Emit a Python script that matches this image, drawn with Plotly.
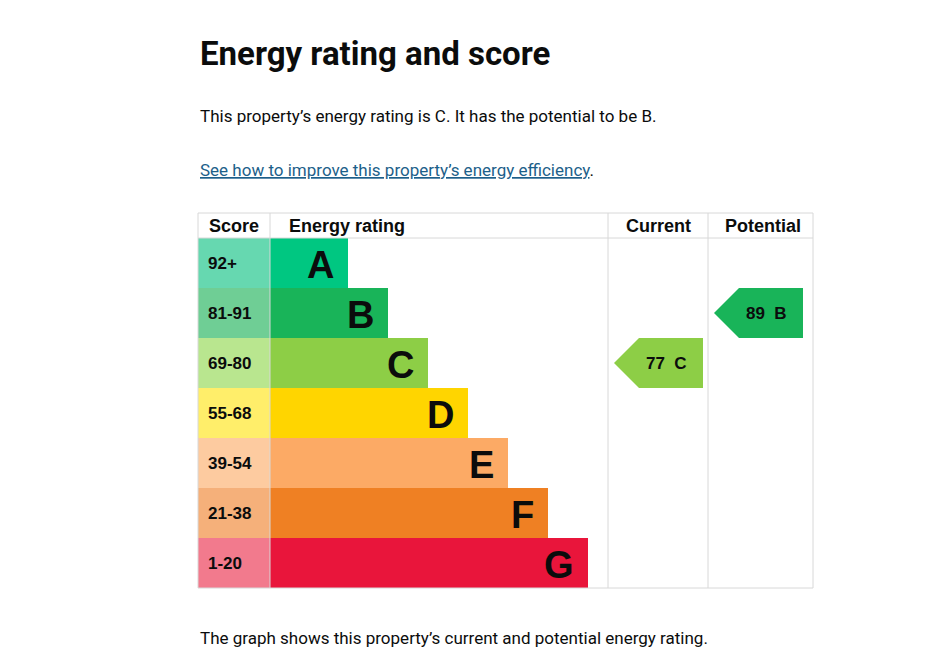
import plotly.graph_objects as go

bands = ["A", "B", "C", "D", "E", "F", "G"]
scores = ["92+", "81-91", "69-80", "55-68", "39-54", "21-38", "1-20"]
band_colors = ["#00c781", "#19b459", "#8dce46", "#ffd500", "#fcaa65", "#ef8023", "#e9153b"]
score_colors = ["#66d8b0", "#6fce95", "#b9e68f", "#ffee6a", "#fdcba0", "#f5b07a", "#f27a8d"]
current = (77, "C")
potential = (89, "B")

W, H = 943, 658
x0, sx1 = 190, 262
row_h, top = 50, 230
rows = [top + row_h * (i + 0.5) for i in range(len(bands))]
lengths = [78 + 40 * i for i in range(len(bands))]

fig = go.Figure()
fig.add_trace(go.Bar(y=rows, x=[sx1 - x0] * 7, base=x0, orientation="h", width=row_h,
                     marker=dict(color=score_colors, line_width=0), hoverinfo="skip"))
fig.add_trace(go.Bar(y=rows, x=lengths, base=sx1, orientation="h", width=row_h,
                     marker=dict(color=band_colors, line_width=0), hoverinfo="skip"))

for i in range(7):
    fig.add_annotation(x=x0 + 8, y=rows[i], text=f"<b>{scores[i]}</b>", showarrow=False,
                       xanchor="left", font=dict(size=17, family="Liberation Sans", color="#0b0c0c"))
    fig.add_annotation(x=sx1 + lengths[i] - 12, y=rows[i] + 2, text=f"<b>{bands[i]}</b>", showarrow=False,
                       xanchor="right", font=dict(size=38, family="Liberation Sans", color="#0b0c0c"))

def arrow(val, band, xl, xr):
    i = bands.index(band)
    yc = rows[i]
    xs = [xl, xl + 25, xr, xr, xl + 25, xl]
    ys = [yc, yc - 25, yc - 25, yc + 25, yc + 25, yc]
    fig.add_trace(go.Scatter(x=xs, y=ys, fill="toself", fillcolor=band_colors[i], mode="lines",
                             line=dict(width=0, color=band_colors[i]), hoverinfo="skip"))
    fig.add_annotation(x=(xl + xr) / 2 + 8, y=yc, text=f"<b>{val}  {band}</b>", showarrow=False,
                       font=dict(size=17, family="Liberation Sans", color="#0b0c0c"))

arrow(current[0], current[1], 606, 695)
arrow(potential[0], potential[1], 706, 795)

grid = "#d8d8d8"
for x in [190, 262, 600, 700, 805]:
    fig.add_shape(type="line", x0=x, x1=x, y0=205, y1=580, line=dict(color=grid, width=1))
for y in [205, 230, 580]:
    fig.add_shape(type="line", x0=190, x1=805, y0=y, y1=y, line=dict(color=grid, width=1))

heads = [("Score", 226), ("Energy rating", 339), ("Current", 650), ("Potential", 755)]
for t, x in heads:
    fig.add_annotation(x=x, y=218, text=f"<b>{t}</b>", showarrow=False,
                       font=dict(size=18, family="Liberation Sans", color="#0b0c0c"))

txt = "#0b0c0c"
fig.add_annotation(x=190, y=45, text="<b>Energy rating and score</b>", showarrow=False, xanchor="left",
                   font=dict(size=33, family="Roboto", color=txt))
fig.add_annotation(x=190, y=108, text="This property’s energy rating is C. It has the potential to be B.",
                   showarrow=False, xanchor="left", font=dict(size=17, family="Roboto", color=txt))
fig.add_annotation(x=190, y=162, text="<span style='color:#1d5f8a'><u>See how to improve this property’s energy efficiency</u></span>.",
                   showarrow=False, xanchor="left", font=dict(size=17, family="Roboto", color=txt))
fig.add_annotation(x=190, y=630, text="The graph shows this property’s current and potential energy rating.",
                   showarrow=False, xanchor="left", font=dict(size=17, family="Roboto", color=txt))

fig.update_xaxes(range=[0, W], visible=False, fixedrange=True)
fig.update_yaxes(range=[H, 0], visible=False, fixedrange=True)
fig.update_layout(width=W, height=H, margin=dict(l=0, r=0, t=0, b=0), showlegend=False,
                  plot_bgcolor="white", paper_bgcolor="white", barmode="overlay", bargap=0)
fig.write_html("out.html")
